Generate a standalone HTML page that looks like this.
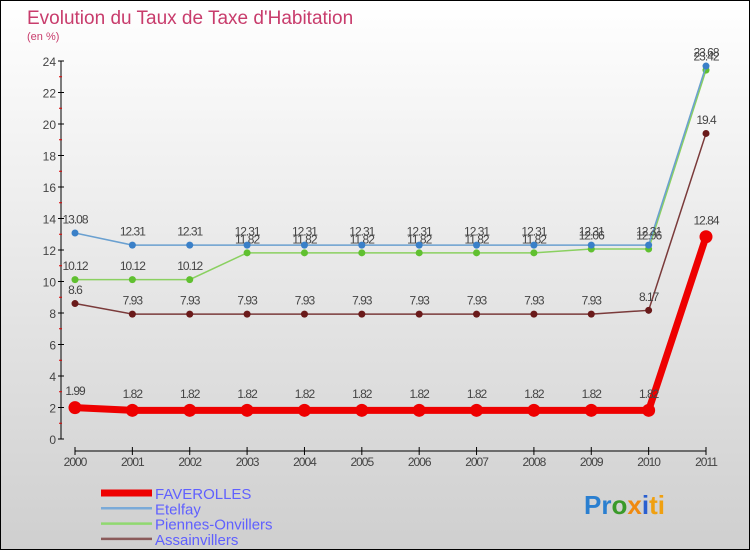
<!DOCTYPE html>
<html><head><meta charset="utf-8"><style>
body{margin:0;}
#c{width:748px;height:548px;border:1px solid #000;background:linear-gradient(#ffffff,#cfcfcf);position:relative;overflow:hidden;font-family:"Liberation Sans",sans-serif;}
</style></head><body>
<div id="c">
<svg id="s" width="748" height="548" xmlns="http://www.w3.org/2000/svg">
<text x="26" y="23" font-size="19" fill="#c83c6c">Evolution du Taux de Taxe d'Habitation</text>
<text x="26" y="39" font-size="11" fill="#c83c6c">(en %)</text>
<g id="axes"></g><g id="series"></g>
<g id="legend"></g>
<text x="583" y="513" font-size="26" font-family="Liberation Sans" font-weight="bold"><tspan fill="#2a7fd0">Pr</tspan><tspan fill="#3a9a2a">o</tspan><tspan fill="#f08a10">x</tspan><tspan fill="#2a5fd0">i</tspan><tspan fill="#f0a010">ti</tspan></text>
</svg></div>
<script>
const years=["2000","2001","2002","2003","2004","2005","2006","2007","2008","2009","2010","2011"];
const faverolles=[1.99,1.82,1.82,1.82,1.82,1.82,1.82,1.82,1.82,1.82,1.82,12.84];
const etelfay=[13.08,12.31,12.31,12.31,12.31,12.31,12.31,12.31,12.31,12.31,12.31,23.68];
const piennes=[10.12,10.12,10.12,11.82,11.82,11.82,11.82,11.82,11.82,12.06,12.06,23.42];
const assain=[8.6,7.93,7.93,7.93,7.93,7.93,7.93,7.93,7.93,7.93,8.17,19.4];
const yTicks=[0,2,4,6,8,10,12,14,16,18,20,22,24];
const NS="http://www.w3.org/2000/svg";
function X(i){return 74+i*(705-74)/11;}
function Y(v){return 438-v*(438-60)/24;}
function mk(t,a,p){const e=document.createElementNS(NS,t);for(const k in a)e.setAttribute(k,a[k]);p.appendChild(e);return e;}
const ax=document.getElementById('axes');
let l=mk('line',{x1:60,y1:60,x2:60,y2:438,stroke:'#000'},ax);


yTicks.forEach(v=>{
 mk('line',{x1:57,x2:63,y1:Y(v),y2:Y(v),stroke:'#000'},ax);
 if(v<24)mk('line',{x1:58,x2:61,y1:Y(v+1),y2:Y(v+1),stroke:'#d00'},ax);
 const t=mk('text',{x:55,y:Y(v)+5,'text-anchor':'end','font-size':12,fill:'#444'},ax);t.textContent=v;
 
 
});
l=mk('line',{x1:X(0),y1:450,x2:X(11),y2:450,stroke:'#000'},ax);


years.forEach((y,i)=>{
 mk('line',{x1:X(i),x2:X(i),y1:446,y2:454,stroke:'#000'},ax);
 const t=mk('text',{x:X(i),y:465,'text-anchor':'middle','font-size':12,fill:'#444','letter-spacing':'-1'},ax);t.textContent=y;
 
 
});
const sg=document.getElementById('series');
function series(d,col,dot,w,r,name){
 const g=mk('g',{},sg);
 
 
 mk('polyline',{points:d.map((v,i)=>X(i)+','+Y(v)).join(' '),fill:'none',stroke:col,'stroke-width':w},g);
 d.forEach((v,i)=>{
  const c=mk('circle',{cx:X(i),cy:Y(v),r:r,fill:dot},g);
  
  
  const t=mk('text',{x:X(i),y:Y(v)-r-6,'text-anchor':'middle','font-size':12,fill:'#444','letter-spacing':'-1'},g);t.textContent=v;
  
  
 });
}
series(assain,'#7a3a3a','#6a1a1a',1.5,3.5,'assainvillers-series');
series(piennes,'#8ad060','#60c030',1.5,3.5,'piennes-series');
series(etelfay,'#6aa0d0','#3a80c8',1.5,3.5,'etelfay-series');
series(faverolles,'#ee0000','#ee0000',7,6.5,'faverolles-series');
const lg=document.getElementById('legend');
[['FAVEROLLES','#ee0000',7],['Etelfay','#7aaad8',2.5],['Piennes-Onvillers','#90d870',2.5],['Assainvillers','#8a5a5a',2.5]].forEach((e,i)=>{
 const y=492+i*15.3;
 const ln=mk('line',{x1:100,x2:151,y1:y,y2:y,stroke:e[1],'stroke-width':e[2]},lg);
 
 
 const t=mk('text',{x:154,y:y+6,'font-size':15,fill:'#6060ff'},lg);t.textContent=e[0];
 
 
});
</script>
</body></html>
